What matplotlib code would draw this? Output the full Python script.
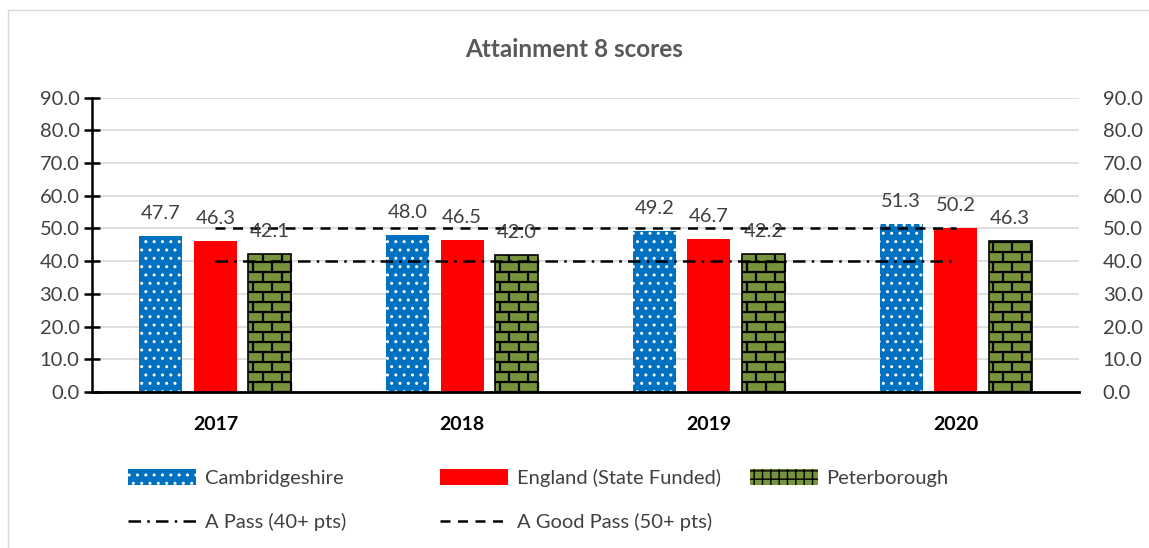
import matplotlib.pyplot as plt
import matplotlib as mpl
import numpy as np
from matplotlib.patches import Rectangle, Patch
from matplotlib.collections import LineCollection

years = ['2017', '2018', '2019', '2020']
cambs = [47.7, 48.0, 49.2, 51.3]
england = [46.3, 46.5, 46.7, 50.2]
peterborough = [42.1, 42.0, 42.2, 46.3]
a_pass = [40, 40, 40, 40]
good_pass = [50, 50, 50, 50]

plt.rcParams['font.family'] = ['Lato', 'DejaVu Sans']
mpl.rcParams['hatch.linewidth'] = 1.0

BLUE = '#0070c0'
RED = '#ff0000'
OLIVE = '#77933c'
GREY = '#404040'

fig = plt.figure(figsize=(11.49, 5.48), dpi=100)
fig.patches.append(Rectangle((0.007, -0.1), 1.2, 1.082, transform=fig.transFigure,
                             fill=False, edgecolor='#d9d9d9', linewidth=1))
ax = fig.add_axes([0.0801, 0.2847, 0.859, 0.537])

x = np.arange(len(years))
off = 0.221
w = 0.174
b1 = ax.bar(x - off, cambs, w, color=BLUE, edgecolor='white', hatch='..', linewidth=0, zorder=2)
b2 = ax.bar(x, england, w, color=RED, zorder=2)
b3 = ax.bar(x + off, peterborough, w, color=OLIVE, edgecolor='black', linewidth=1.2, zorder=2)

# brick texture for Peterborough bars
row_h = 3.06
brick_w = 0.077
for r in b3:
    x0, x1 = r.get_x(), r.get_x() + r.get_width()
    top = r.get_height()
    segs = []
    n_rows = int(np.ceil(top / row_h))
    for i in range(n_rows):
        y = i * row_h
        segs.append([(x0, y), (x1, y)])
        shift = brick_w * 0.25 if i % 2 == 0 else brick_w * 0.75
        for xv in np.arange(x0 + shift, x1, brick_w):
            segs.append([(xv, y), (xv, min(y + row_h, top))])
    ax.add_collection(LineCollection(segs, colors='black', linewidths=1.6, zorder=3))

for bars, vals in [(b1, cambs), (b2, england), (b3, peterborough)]:
    for r, v in zip(bars, vals):
        ax.annotate(f'{v:.1f}', (r.get_x() + r.get_width() / 2, v), xytext=(0, 10),
                    textcoords='offset points', ha='center', va='bottom',
                    fontsize=14.5, color=GREY, zorder=5)

l1, = ax.plot(x, a_pass, color='black', linewidth=1.8, dashes=[5, 2.5, 1, 2.5], zorder=4)
l2, = ax.plot(x, good_pass, color='black', linewidth=1.8, dashes=[4, 3], zorder=4)

ticks = np.arange(0, 91, 10)
ax.set_xlim(-0.5, 3.5)
ax.set_ylim(0, 90)
ax.set_yticks(ticks)
ax.set_yticklabels([f'{v:.1f}' for v in ticks], fontsize=14.5, color=GREY)
ax.set_xticks(x)
ax.set_xticklabels(years, fontsize=14, fontweight='bold', color='black')
ax.tick_params(axis='x', length=0, pad=17)
ax.tick_params(axis='y', direction='inout', length=12, width=1.8, pad=3)
ax.grid(axis='y', color='#d9d9d9', linewidth=1.2, zorder=0)
ax.set_axisbelow(True)
for s in ['top', 'right']:
    ax.spines[s].set_visible(False)
ax.spines['left'].set_linewidth(1.8)
ax.spines['bottom'].set_linewidth(2.0)

ax2 = ax.twinx()
ax2.set_ylim(0, 90)
ax2.set_yticks(ticks)
ax2.set_yticklabels([f'{v:.1f}' for v in ticks], fontsize=14.5, color=GREY)
ax2.tick_params(axis='y', length=0, pad=17)
for s in ['top', 'left', 'bottom', 'right']:
    ax2.spines[s].set_visible(False)

fig.text(0.5, 0.909, 'Attainment 8 scores', ha='center', va='center', fontsize=17.5,
         fontweight='bold', color='#595959')

peter_handle = Patch(facecolor=OLIVE, edgecolor='black', hatch='++', linewidth=0)
columns = [
    (128, [b1, l1], ['Cambridgeshire', 'A Pass (40+ pts)']),
    (440, [b2, l2], ['England (State Funded)', 'A Good Pass (50+ pts)']),
    (750, [peter_handle], ['Peterborough']),
]
for px, hs, ls in columns:
    leg = fig.legend(hs, ls, loc='upper left', bbox_to_anchor=(px / 1149, 0.145),
                     frameon=False, fontsize=14.5, handlelength=3.4, handleheight=0.9,
                     labelspacing=1.3, handletextpad=0.4, borderpad=0, borderaxespad=0)
    for t in leg.get_texts():
        t.set_color(GREY)

fig.savefig('out.png', dpi=100)
